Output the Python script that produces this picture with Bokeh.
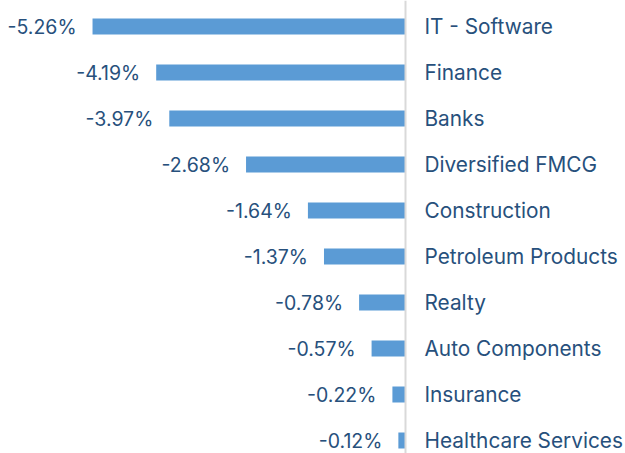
from bokeh.plotting import figure
from bokeh.models import ColumnDataSource, Range1d, Span
from bokeh.core.properties import value
from bokeh.embed import file_html
from bokeh.resources import INLINE

categories = ["IT - Software", "Finance", "Banks", "Diversified FMCG", "Construction",
              "Petroleum Products", "Realty", "Auto Components", "Insurance", "Healthcare Services"]
values = [-5.26, -4.19, -3.97, -2.68, -1.64, -1.37, -0.78, -0.57, -0.22, -0.12]
labels = ["%.2f%%" % v for v in values]

W, H = 625, 453
axis_px = 405
scale = 59.5
top_px, step = 26, 46

src = ColumnDataSource(dict(pos=list(range(len(categories))), val=values,
                            zero=[0] * len(values), cat=categories, lab=labels))

p = figure(width=W, height=H, output_backend="svg", toolbar_location=None,
           x_range=Range1d(-axis_px / scale, (W - axis_px) / scale),
           y_range=Range1d((H - top_px) / step, -top_px / step),
           min_border=0, outline_line_color=None)
p.xaxis.visible = False
p.yaxis.visible = False
p.xgrid.visible = False
p.ygrid.visible = False
p.background_fill_color = "white"

p.hbar(y="pos", left="val", right="zero", height=16 / step, source=src,
       fill_color="#5b9bd5", line_color=None)

p.add_layout(Span(location=0, dimension="height", line_color="#d9d9d9", line_width=2))

font = value("Inter")
p.text(x="val", y="pos", text="lab", source=src, text_align="right", text_baseline="middle",
       x_offset=-16, text_color="#27507c", text_font=font, text_font_size="19.5px")
p.text(x="zero", y="pos", text="cat", source=src, text_align="left", text_baseline="middle",
       x_offset=19, text_color="#27507c", text_font=font, text_font_size="20.8px")

open("out.html", "w").write(file_html(p, INLINE))
